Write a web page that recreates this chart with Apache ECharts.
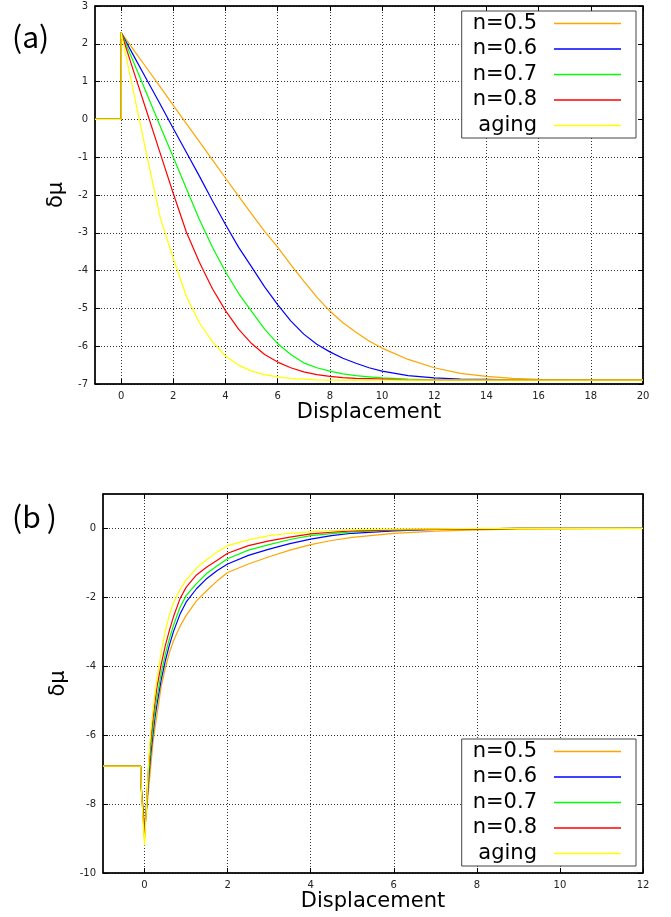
<!DOCTYPE html>
<html>
<head>
<meta charset="utf-8">
<script src="https://cdn.jsdelivr.net/npm/echarts@6/dist/echarts.min.js"></script>
<style>
  html, body { margin: 0; padding: 0; background: #fff; }
  #chart { width: 671px; height: 917px; }
</style>
</head>
<body>
<div id="chart"></div>
<script>
(function () {
    var chart = echarts.init(document.getElementById('chart'));

    // legend names, same for both panels
    var seriesNames = ['n=0.5', 'n=0.6', 'n=0.7', 'n=0.8', 'aging'];

    // panel (a)
    var xA = [-1, 0, 0, 0.5, 1, 1.5, 2, 2.5, 3, 3.5, 4, 4.5, 5, 5.5, 6, 6.5, 7, 7.5, 8, 8.5, 9, 9.5, 10, 11, 12, 13, 14, 15, 16, 18, 20];
    var yA_n05 = [0, 0, 2.3, 1.82, 1.34, 0.86, 0.37, -0.11, -0.59, -1.07, -1.55, -2.03, -2.5, -2.96, -3.38, -3.84, -4.28, -4.7, -5.07, -5.38, -5.63, -5.86, -6.05, -6.35, -6.57, -6.72, -6.8, -6.85, -6.88, -6.9, -6.9];
    var yA_n06 = [0, 0, 2.3, 1.66, 1.03, 0.4, -0.24, -0.87, -1.5, -2.15, -2.78, -3.38, -3.9, -4.43, -4.9, -5.33, -5.68, -5.95, -6.15, -6.32, -6.45, -6.57, -6.66, -6.78, -6.84, -6.87, -6.88, -6.89, -6.9, -6.9, -6.9];
    var yA_n07 = [0, 0, 2.3, 1.48, 0.65, -0.18, -1.0, -1.83, -2.65, -3.38, -4.03, -4.6, -5.08, -5.55, -5.93, -6.22, -6.44, -6.57, -6.66, -6.73, -6.78, -6.81, -6.84, -6.87, -6.89, -6.9, -6.9, -6.9, -6.9, -6.9, -6.9];
    var yA_n08 = [0, 0, 2.3, 1.23, 0.17, -0.9, -1.96, -2.98, -3.78, -4.48, -5.06, -5.55, -5.93, -6.22, -6.42, -6.57, -6.68, -6.75, -6.8, -6.83, -6.85, -6.86, -6.87, -6.89, -6.9, -6.9, -6.9, -6.9, -6.9, -6.9, -6.9];
    var yA_aging = [0, 0, 2.3, 0.65, -1.0, -2.6, -3.68, -4.68, -5.38, -5.88, -6.26, -6.5, -6.66, -6.75, -6.81, -6.85, -6.87, -6.89, -6.9, -6.9, -6.9, -6.9, -6.9, -6.9, -6.9, -6.9, -6.9, -6.9, -6.9, -6.9, -6.9];

    // panel (b)
    var xB = [-1, -0.09, -0.08, 0, 0.05, 0.1, 0.15, 0.2, 0.25, 0.3, 0.4, 0.5, 0.6, 0.7, 0.85, 1, 1.25, 1.5, 1.75, 2, 2.5, 3, 3.5, 4, 4.5, 5, 6, 7, 8, 9, 10, 12];
    var yB_n05 = [-6.9, -6.9, -7.5, -8.6, -8.2, -7.55, -6.9, -6.25, -5.8, -5.4, -4.6, -4.05, -3.6, -3.25, -2.85, -2.53, -2.1, -1.8, -1.52, -1.28, -1.03, -0.82, -0.63, -0.47, -0.35, -0.26, -0.14, -0.08, -0.04, -0.02, -0.01, 0];
    var yB_n06 = [-6.9, -6.9, -7.5, -8.8, -8.1, -7.25, -6.55, -6.0, -5.5, -5.1, -4.4, -3.84, -3.38, -2.98, -2.5, -2.14, -1.75, -1.45, -1.22, -1.03, -0.78, -0.6, -0.44, -0.31, -0.21, -0.14, -0.07, -0.03, -0.01, 0, 0, 0];
    var yB_n07 = [-6.9, -6.9, -7.5, -8.9, -8.0, -7.05, -6.35, -5.8, -5.3, -4.9, -4.2, -3.65, -3.2, -2.8, -2.3, -1.95, -1.6, -1.3, -1.08, -0.88, -0.63, -0.47, -0.32, -0.21, -0.15, -0.1, -0.05, -0.02, -0.01, 0, 0, 0];
    var yB_n08 = [-6.9, -6.9, -7.5, -9.0, -7.9, -6.85, -6.1, -5.55, -5.05, -4.6, -3.95, -3.4, -2.95, -2.55, -2.05, -1.71, -1.35, -1.12, -0.92, -0.72, -0.5, -0.36, -0.25, -0.16, -0.11, -0.07, -0.04, -0.02, -0.01, 0, 0, 0];
    var yB_aging = [-6.9, -6.9, -7.5, -9.2, -8.0, -6.75, -5.9, -5.32, -4.8, -4.35, -3.6, -2.97, -2.5, -2.15, -1.78, -1.5, -1.15, -0.9, -0.68, -0.5, -0.33, -0.21, -0.14, -0.1, -0.06, -0.04, -0.02, -0.01, 0, 0, 0, 0];

    // tick labels
    var xTicksA = [0, 2, 4, 6, 8, 10, 12, 14, 16, 18, 20];
    var yTicksA = [-7, -6, -5, -4, -3, -2, -1, 0, 1, 2, 3];
    var xTicksB = [0, 2, 4, 6, 8, 10, 12];
    var yTicksB = [-10, -8, -6, -4, -2, 0];

    var colors = ['#ffa500', '#0000ff', '#00ff00', '#ff0000', '#ffff00'];
    var ysA = [yA_n05, yA_n06, yA_n07, yA_n08, yA_aging];
    var ysB = [yB_n05, yB_n06, yB_n07, yB_n08, yB_aging];

    var tickFont = {fontFamily: 'DejaVu Sans', fontSize: 10, color: '#222'};
    var bigFont = {fontFamily: 'DejaVu Sans', fontSize: 21, color: '#000'};
    var gridLine = {show: true, lineStyle: {color: '#333', width: 1, type: [1, 2]}};
    var frame = {show: true, onZero: false, lineStyle: {color: '#000', width: 1.5}};

    function zip(xs, ys) {
        return xs.map(function (x, i) { return [x, ys[i]]; });
    }

    function mainX(gi, min, max, ticks, gap) {
        return {
            type: 'value', gridIndex: gi, min: min, max: max, position: 'bottom',
            name: 'Displacement', nameLocation: 'middle', nameGap: gap, nameTextStyle: bigFont,
            axisLine: frame,
            axisTick: {show: true, inside: true, length: 5, customValues: ticks, lineStyle: {color: '#000'}},
            axisLabel: {customValues: ticks, margin: 7, textStyle: tickFont},
            splitLine: gridLine
        };
    }

    function mainY(gi, min, max, ticks) {
        return {
            type: 'value', gridIndex: gi, min: min, max: max, position: 'left',
            name: 'δμ', nameLocation: 'middle', nameRotate: 90, nameGap: 16, nameTextStyle: bigFont,
            axisLine: frame,
            axisTick: {show: true, inside: true, length: 5, customValues: ticks, lineStyle: {color: '#000'}},
            axisLabel: {customValues: ticks, margin: 7, textStyle: tickFont},
            splitLine: gridLine
        };
    }

    // mirrored axes on top / right, ticks only
    function mirror(gi, min, max, ticks, pos) {
        return {
            type: 'value', gridIndex: gi, min: min, max: max, position: pos,
            axisLine: frame,
            axisTick: {show: true, inside: true, length: 5, customValues: ticks, lineStyle: {color: '#000'}},
            axisLabel: {show: false},
            splitLine: {show: false}
        };
    }

    var series = [];
    seriesNames.forEach(function (name, i) {
        series.push({
            name: name, type: 'line', xAxisIndex: 0, yAxisIndex: 0,
            data: zip(xA, ysA[i]), showSymbol: false, symbol: 'none',
            itemStyle: {color: colors[i]}, lineStyle: {color: colors[i], width: 1.2}
        });
    });
    seriesNames.forEach(function (name, i) {
        series.push({
            name: name, type: 'line', xAxisIndex: 1, yAxisIndex: 1,
            data: zip(xB, ysB[i]), showSymbol: false, symbol: 'none',
            itemStyle: {color: colors[i]}, lineStyle: {color: colors[i], width: 1.2}
        });
    });

    function legendAt(top) {
        return {
            data: seriesNames, orient: 'vertical', align: 'right',
            right: 35, top: top, padding: [0, 15, 0, 11], itemGap: 0.5,
            itemWidth: 67, itemHeight: 1.5, icon: 'rect',
            backgroundColor: '#fff', borderColor: '#444', borderWidth: 1,
            textStyle: {fontFamily: 'DejaVu Sans', fontSize: 21, color: '#000', lineHeight: 25, padding: [0, 12, 0, 0]}
        };
    }

    var option = {
        backgroundColor: '#fff',
        animation: false,
        grid: [
            {left: 95, top: 6, width: 548, height: 378, show: true, borderColor: '#000', borderWidth: 1},
            {left: 103, top: 494, width: 540, height: 379, show: true, borderColor: '#000', borderWidth: 1}
        ],
        xAxis: [
            mainX(0, -1, 20, xTicksA, 17),
            mainX(1, -1, 12, xTicksB, 16),
            mirror(0, -1, 20, xTicksA, 'top'),
            mirror(1, -1, 12, xTicksB, 'top')
        ],
        yAxis: [
            mainY(0, -7, 3, yTicksA),
            mainY(1, -10, 1, yTicksB),
            mirror(0, -7, 3, yTicksA, 'right'),
            mirror(1, -10, 1, yTicksB, 'right')
        ],
        legend: [legendAt(11), legendAt(739)],
        graphic: [
            {type: 'text', left: 12, top: 22, style: {text: '(a)', fontFamily: 'Noto Sans CJK JP', fontSize: 30, fill: '#000'}},
            {type: 'text', left: 12, top: 502, style: {text: '(b\u2009)', fontFamily: 'Noto Sans CJK JP', fontSize: 30, fill: '#000'}}
        ],
        series: series
    };

    chart.setOption(option);
})();
</script>
</body>
</html>
